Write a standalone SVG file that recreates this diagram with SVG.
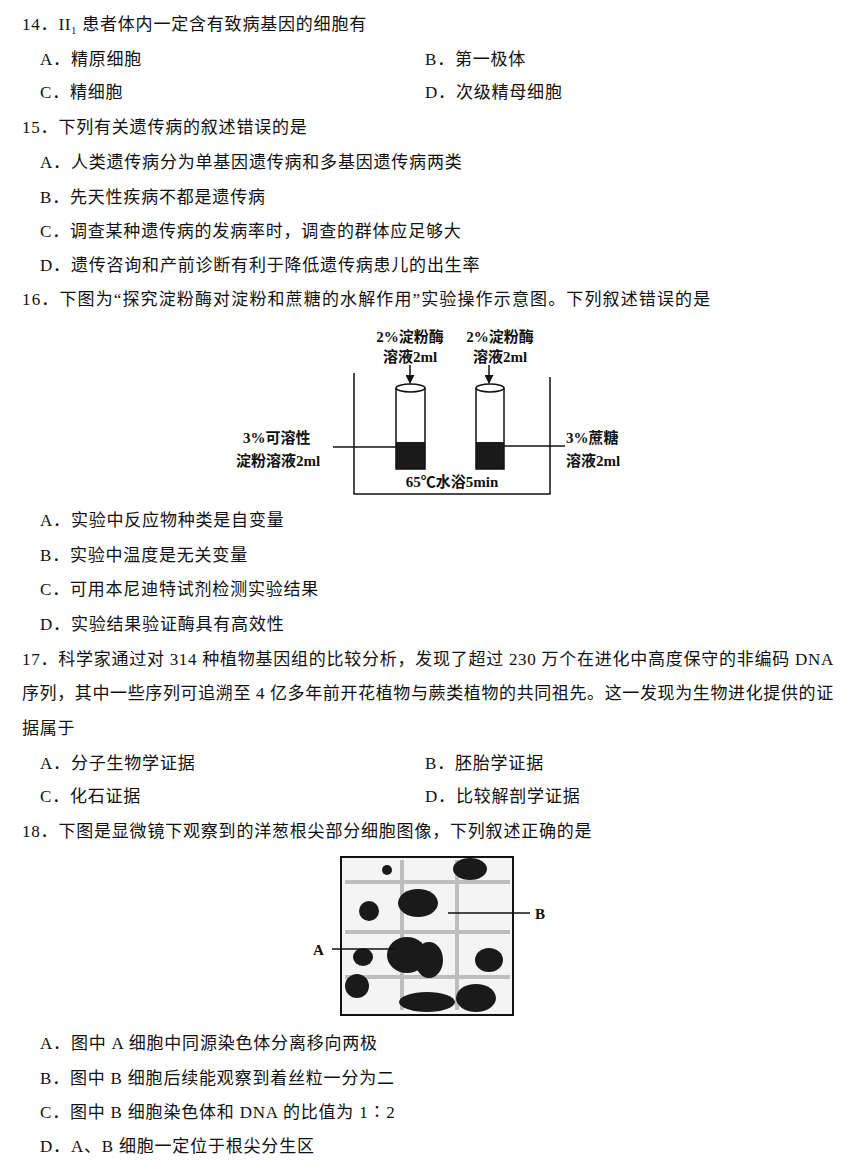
<svg xmlns="http://www.w3.org/2000/svg" width="858" height="1171" viewBox="0 0 858 1171">
<style>
text{font-family:"Liberation Serif","Noto Sans CJK SC",serif;font-size:17px;letter-spacing:0.8px;fill:#111}
.f{font-weight:bold;font-size:15px;letter-spacing:0}
.l{stroke:#111;stroke-width:1.5;fill:none}
.d{fill:#1a1a1a}
</style>
<defs><marker id="ar" viewBox="0 0 10 10" refX="9" refY="5" markerWidth="6" markerHeight="6" orient="auto"><path d="M0,0L10,5L0,10z" fill="#111"/></marker></defs>
<rect width="858" height="1171" fill="#fff"/>
<g id="text">
<text x="22" y="30">14．II<tspan font-size="10" dy="4">1</tspan><tspan dy="-4"> 患者体内一定含有致病基因的细胞有</tspan></text>
<text x="40" y="65">A．精原细胞</text><text x="425" y="65">B．第一极体</text>
<text x="40" y="98">C．精细胞</text><text x="425" y="98">D．次级精母细胞</text>
<text x="22" y="133">15．下列有关遗传病的叙述错误的是</text>
<text x="40" y="168">A．人类遗传病分为单基因遗传病和多基因遗传病两类</text>
<text x="40" y="203">B．先天性疾病不都是遗传病</text>
<text x="40" y="237">C．调查某种遗传病的发病率时，调查的群体应足够大</text>
<text x="40" y="271">D．遗传咨询和产前诊断有利于降低遗传病患儿的出生率</text>
<text x="22" y="305" textLength="689">16．下图为“探究淀粉酶对淀粉和蔗糖的水解作用”实验操作示意图。下列叙述错误的是</text>
<text x="40" y="526">A．实验中反应物种类是自变量</text>
<text x="40" y="561">B．实验中温度是无关变量</text>
<text x="40" y="595">C．可用本尼迪特试剂检测实验结果</text>
<text x="40" y="630">D．实验结果验证酶具有高效性</text>
<text x="22" y="665" textLength="812">17．科学家通过对 314 种植物基因组的比较分析，发现了超过 230 万个在进化中高度保守的非编码 DNA</text>
<text x="22" y="699" textLength="812">序列，其中一些序列可追溯至 4 亿多年前开花植物与蕨类植物的共同祖先。这一发现为生物进化提供的证</text>
<text x="22" y="734">据属于</text>
<text x="40" y="769">A．分子生物学证据</text><text x="425" y="769">B．胚胎学证据</text>
<text x="40" y="802">C．化石证据</text><text x="425" y="802">D．比较解剖学证据</text>
<text x="22" y="837">18．下图是显微镜下观察到的洋葱根尖部分细胞图像，下列叙述正确的是</text>
<text x="40" y="1049">A．图中 A 细胞中同源染色体分离移向两极</text>
<text x="40" y="1084">B．图中 B 细胞后续能观察到着丝粒一分为二</text>
<text x="40" y="1118">C．图中 B 细胞染色体和 DNA 的比值为 1∶2</text>
<text x="40" y="1152">D．A、B 细胞一定位于根尖分生区</text>
</g>
<g id="fig16">
<path class="l" d="M354,373V494H550V377"/>
<g id="tube1"><rect x="396" y="442" width="29" height="27" class="d"/><path class="l" d="M396,388V469H425V388"/><ellipse cx="410.5" cy="388" rx="14.5" ry="4" class="l" fill="#fff"/></g>
<g id="tube2"><rect x="476" y="442" width="28" height="27" class="d"/><path class="l" d="M476,388V469H504V388"/><ellipse cx="490" cy="388" rx="14" ry="4" class="l" fill="#fff"/></g>
<g id="connectors">
<line class="l" x1="410" y1="365" x2="410" y2="383" marker-end="url(#ar)"/>
<line class="l" x1="489" y1="365" x2="489" y2="383" marker-end="url(#ar)"/>
<line class="l" x1="333" y1="447" x2="396" y2="447"/>
<line class="l" x1="504" y1="446" x2="565" y2="446"/>
</g>
<text class="f" x="410" y="342" text-anchor="middle">2%淀粉酶</text>
<text class="f" x="410" y="362" text-anchor="middle">溶液2ml</text>
<text class="f" x="500" y="342" text-anchor="middle">2%淀粉酶</text>
<text class="f" x="500" y="362" text-anchor="middle">溶液2ml</text>
<text class="f" x="243" y="443">3%可溶性</text>
<text class="f" x="236" y="466">淀粉溶液2ml</text>
<text class="f" x="566" y="443">3%蔗糖</text>
<text class="f" x="566" y="466">溶液2ml</text>
<text class="f" x="452" y="487" text-anchor="middle">65℃水浴5min</text>
</g>
<g id="fig18">
<rect x="341" y="857" width="172" height="158" fill="#f4f4f4" stroke="#111" stroke-width="2"/>
<g fill="#999" opacity="0.6">
<rect x="345" y="880" width="165" height="4"/><rect x="345" y="930" width="165" height="4"/><rect x="345" y="975" width="165" height="4"/>
<rect x="400" y="860" width="4" height="150"/><rect x="455" y="860" width="4" height="150"/>
</g>
<g class="d">
<ellipse cx="470" cy="869" rx="17" ry="11"/><ellipse cx="369" cy="911" rx="10" ry="10"/>
<ellipse cx="418" cy="903" rx="20" ry="14"/><ellipse cx="407" cy="955" rx="20" ry="18"/><ellipse cx="429" cy="960" rx="14" ry="18"/>
<ellipse cx="363" cy="957" rx="10" ry="9"/><ellipse cx="489" cy="960" rx="14" ry="12"/>
<ellipse cx="357" cy="986" rx="12" ry="12"/><ellipse cx="476" cy="998" rx="20" ry="14"/><ellipse cx="427" cy="1002" rx="28" ry="10"/><ellipse cx="387" cy="870" rx="5" ry="5"/>
</g>
<line class="l" x1="448" y1="913" x2="530" y2="913"/>
<line class="l" x1="332" y1="949" x2="395" y2="949"/>
<text class="f" x="535" y="919">B</text>
<text class="f" x="313" y="955">A</text>
</g>
</svg>
